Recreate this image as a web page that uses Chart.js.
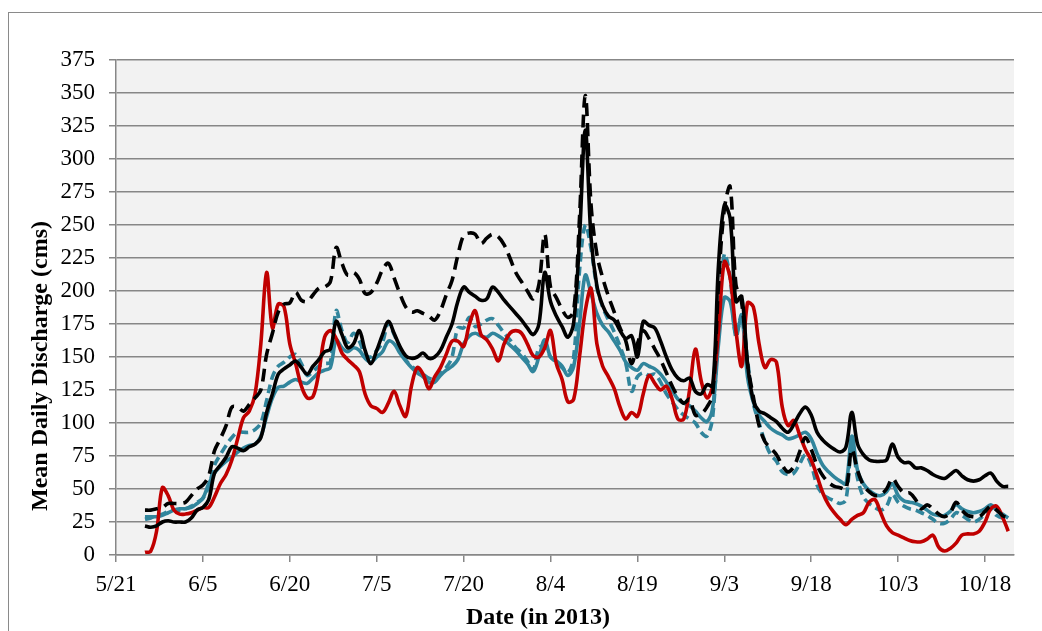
<!DOCTYPE html>
<html>
<head>
<meta charset="utf-8">
<title>Mean Daily Discharge, 2013</title>
<script src="https://cdn.jsdelivr.net/npm/chart.js@4.4.0/dist/chart.umd.min.js"></script>
<style>
  html, body { margin: 0; padding: 0; background: #ffffff; }
  #wrap { position: relative; width: 1042px; height: 631px; overflow: hidden; }
  #frame { position: absolute; left: 8px; top: 12px; width: 1200px; height: 800px;
           border-left: 1px solid #8a8a8a; border-top: 1px solid #8a8a8a; }
  #c { position: absolute; left: 0; top: 0; }
</style>
</head>
<body>
<div id="wrap">
  <div id="frame"></div>
  <canvas id="c" width="1042" height="631"></canvas>
</div>
<script>
// Days are counted from 5/21/2013 (day 0); the daily series begin on 5/26 (day 5).
const firstDay = 5;
const xTickDays = [0, 15, 30, 45, 60, 75, 90, 105, 120, 135, 150];
const xTickLabels = ['5/21', '6/5', '6/20', '7/5', '7/20', '8/4', '8/19', '9/3', '9/18', '10/3', '10/18'];
const xTitle = 'Date (in 2013)';
const yTitle = 'Mean Daily Discharge (cms)';

// Mean daily discharge (cms), one value per day from 5/26 to 10/22
const redSolid = [
  2, 3, 18, 51, 45, 34, 31, 31, 32, 34,
  36, 36, 44, 54, 61, 72, 88, 104, 109, 122,
  160, 214, 172, 190, 188, 160, 145, 128, 119, 120,
  138, 165, 170, 164, 153, 148, 144, 139, 122, 113,
  111, 108, 115, 124, 113, 105, 128, 142, 137, 126,
  135, 142, 152, 162, 162, 158, 175, 185, 167, 163,
  156, 147, 160, 168, 170, 168, 160, 151, 150, 157,
  170, 145, 133, 116, 118, 150, 185, 202, 160, 143,
  135, 126, 112, 103, 108, 105, 122, 136, 130, 125,
  128, 118, 103, 103, 125, 156, 132, 119, 128, 170,
  222, 210, 170, 143, 191, 188, 160, 142, 148, 146,
  112, 98, 102, 91, 80, 72, 60, 47, 38, 32,
  27, 23, 27, 30, 32, 40, 42, 32, 22, 17,
  15, 13, 11, 10, 10, 12, 15, 6, 3, 5,
  9, 15, 16, 16, 18, 25, 35, 37, 29, 18
];
const blackSolid = [
  22, 21, 22, 25, 26, 25, 25, 25, 28, 34,
  36, 42, 62, 68, 74, 82, 81, 79, 82, 84,
  89, 108, 122, 137, 141, 144, 147, 142, 137, 143,
  148, 154, 156, 177, 167, 157, 160, 170, 155, 145,
  155, 167, 177, 168, 158, 151, 149, 150, 153, 149,
  150, 155, 165, 175, 192, 203, 199, 196, 193, 194,
  203, 199, 193, 188, 183, 178, 172, 167, 175, 214,
  192, 181, 173, 165, 176, 240, 322, 240, 204, 189,
  181, 178, 170, 164, 166, 150, 177, 174, 172, 162,
  150, 140, 134, 132, 134, 124, 122, 129, 128, 220,
  265, 255, 192, 196, 145, 117, 109, 107, 104, 101,
  96, 93, 99, 107, 112, 106, 93, 87, 83, 80,
  78, 82, 108, 84, 76, 72, 71, 71, 72, 84,
  74, 70, 70, 66, 66, 64, 61, 59, 58, 61,
  64, 60, 57, 56, 57, 60, 62, 56, 52, 52
];
const blackDashed = [
  34, 34, 35, 36, 39, 39, 39, 40, 45, 50,
  53, 60, 79, 88, 98, 112, 112, 109, 114, 119,
  125, 152, 168, 184, 190, 191, 199, 193, 192, 197,
  202, 203, 207, 233, 221, 212, 214, 209, 198, 199,
  206, 216, 221, 210, 198, 188, 184, 185, 183, 181,
  178, 185, 197, 208, 227, 242, 244, 243, 236, 240,
  243, 241, 235, 225, 214, 207, 200, 194, 205, 243,
  203, 195, 186, 180, 185, 255, 348, 265, 228, 210,
  196, 184, 172, 162, 145, 160, 170, 164, 156, 148,
  138, 128, 120, 115, 118, 106, 107, 112, 122, 205,
  262, 279, 205, 191, 145, 120, 98, 86, 81, 76,
  68, 63, 67, 78, 89, 80, 68, 60, 55, 52,
  51, 50, 80, 64, 53, 48, 45, 46, 50, 58,
  52, 47, 47, 42, 35, 38, 35, 31, 29, 32,
  40, 34, 30, 29, 29, 33, 37, 34, 30, 28
];
const tealSolid = [
  29, 29, 29, 30, 32, 34, 35, 35, 36, 39,
  43, 54, 62, 67, 71, 74, 78, 81, 83, 84,
  90, 105, 119, 127, 128, 131, 133, 131, 130, 134,
  138, 140, 142, 163, 157, 154, 157, 155, 149, 146,
  150, 154, 162, 160, 153, 147, 142, 138, 135, 131,
  131, 136, 140, 143, 148, 160, 166, 168, 166, 165,
  168, 166, 163, 159, 155, 150, 145, 139, 150, 163,
  150, 147, 143, 136, 143, 175, 212, 198, 183, 174,
  169, 162, 155, 146, 142, 140, 145, 143, 141, 137,
  131, 125, 118, 115, 113, 109, 104, 101, 112, 160,
  195, 192, 168, 180, 135, 116, 106, 101, 96, 93,
  91, 88, 89, 91, 93, 88, 77, 68, 63, 59,
  56, 54, 90, 64, 54, 49, 46, 45, 48, 54,
  45, 41, 40, 39, 37, 34, 31, 30, 30, 33,
  38, 35, 33, 32, 33, 35, 38, 34, 31, 28
];
const tealDashed = [
  27, 28, 30, 31, 33, 34, 34, 35, 37, 40,
  43, 52, 68, 76, 83, 89, 93, 93, 93, 95,
  100, 117, 135, 143, 146, 150, 152, 145, 136, 139,
  143, 145, 146, 185, 170, 161, 168, 162, 152, 150,
  155, 161, 176, 167, 157, 148, 143, 140, 137, 134,
  133, 138, 142, 150, 172, 172, 180, 173, 175, 178,
  179, 174, 168, 163, 157, 153, 147, 140, 157, 158,
  150, 146, 142, 138, 150, 215, 250, 232, 203, 188,
  178, 169, 158, 145, 124, 135, 138, 136, 137, 131,
  122, 116, 110, 106, 103, 100, 93, 90, 105, 175,
  228, 210, 165, 182, 148, 115, 100, 86, 76, 71,
  63, 61, 62, 69, 76, 68, 53, 46, 43, 41,
  39, 42, 85, 58, 44, 39, 36, 34, 37, 46,
  40, 37, 35, 34, 32, 30, 27, 24, 24, 27,
  32, 30, 27, 25, 27, 31, 35, 30, 28, 28
];

const toPoints = arr => arr.map((v, i) => ({ x: firstDay + i, y: v }));

const RED = '#c00000';
const BLACK = '#000000';
const TEAL = '#31859c';
const GRID = '#878787';

function series(values, color, dash, order) {
  return {
    data: toPoints(values),
    borderColor: color,
    backgroundColor: color,
    borderWidth: 3.6,
    borderDash: dash,
    borderJoinStyle: 'round',
    pointRadius: 0,
    tension: 0.35,
    fill: false,
    order: order
  };
}

// Plot area fill
const plotBackground = {
  id: 'plotBackground',
  beforeDraw(chart) {
    const { ctx, chartArea: a } = chart;
    ctx.save();
    ctx.fillStyle = '#f2f2f2';
    ctx.fillRect(a.left, a.top, a.right - a.left, a.bottom - a.top);
    ctx.restore();
  }
};

// Bold serif axis titles
const axisTitles = {
  id: 'axisTitles',
  afterDraw(chart) {
    const { ctx, chartArea: a } = chart;
    ctx.save();
    ctx.font = 'bold 24px "Liberation Serif", "Times New Roman", serif';
    ctx.fillStyle = '#000000';
    ctx.textAlign = 'center';
    ctx.textBaseline = 'middle';
    ctx.fillText(xTitle, (a.left + a.right) / 2 - 27, a.bottom + 63);
    ctx.translate(a.left - 75, a.top + 306);
    ctx.rotate(-Math.PI / 2);
    ctx.fillText(yTitle, 0, 0);
    ctx.restore();
  }
};

new Chart(document.getElementById('c'), {
  type: 'line',
  data: {
    datasets: [
      series(redSolid, RED, [], 2),
      series(blackDashed, BLACK, [13, 7], 1),
      series(tealDashed, TEAL, [9, 5], 4),
      series(tealSolid, TEAL, [], 3),
      series(blackSolid, BLACK, [], 0)
    ]
  },
  options: {
    responsive: false,
    animation: false,
    devicePixelRatio: 1,
    layout: { padding: { left: 0, top: 60, right: 28, bottom: 0 } },
    plugins: { legend: { display: false }, tooltip: { enabled: false } },
    scales: {
      x: {
        type: 'linear',
        position: 'bottom',
        min: 0,
        max: 155,
        afterBuildTicks: s => { s.ticks = xTickDays.map(v => ({ value: v })); },
        afterFit: s => { s.height = 76; },
        ticks: {
          autoSkip: false,
          maxRotation: 0,
          padding: 9,
          color: '#000000',
          font: { family: '"Liberation Serif", "Times New Roman", serif', size: 23 },
          callback: v => xTickLabels[xTickDays.indexOf(v)]
        },
        grid: { drawOnChartArea: false, drawTicks: true, tickLength: 7, color: GRID, lineWidth: 1.5 },
        border: { display: true, color: GRID, width: 1.5 }
      },
      y: {
        min: 0,
        max: 375,
        afterFit: s => { s.width = 116; },
        ticks: {
          stepSize: 25,
          padding: 14,
          color: '#000000',
          font: { family: '"Liberation Serif", "Times New Roman", serif', size: 23 }
        },
        grid: { color: GRID, lineWidth: 1.5, tickLength: 7 },
        border: { display: true, color: GRID, width: 1.5 }
      }
    }
  },
  plugins: [plotBackground, axisTitles]
});
</script>
</body>
</html>
